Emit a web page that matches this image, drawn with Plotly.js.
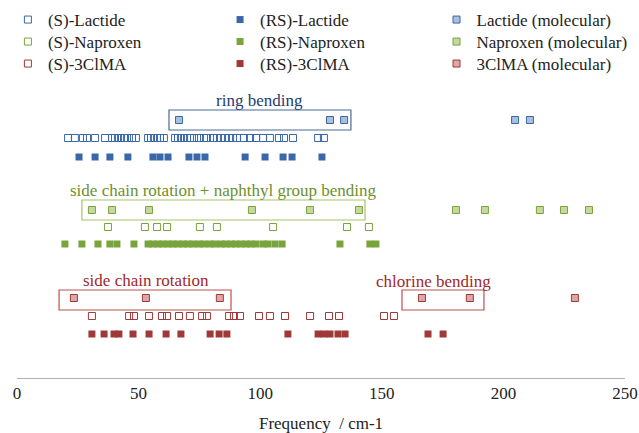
<!DOCTYPE html>
<html>
<head>
<meta charset="utf-8">
<script src="https://cdn.plot.ly/plotly-3.0.1.min.js"></script>
<style>html,body{margin:0;padding:0;background:#fff;}#chart{width:639px;height:433px;}</style>
</head>
<body>
<div id="chart"></div>
<script>
// Frequencies (cm-1)
const lactideS = [21.0, 23.8, 27.1, 28.8, 32.1, 36.2, 39.1, 40.3, 41.5, 42.8, 44.0, 45.2, 47.3, 48.9, 53.9, 55.1, 56.3, 57.6, 58.8, 60.4, 65.0, 66.2, 67.4, 68.7, 69.9, 71.1, 72.8, 74.8, 76.9, 78.1, 80.6, 82.2, 83.9, 85.5, 87.2, 88.8, 90.5, 93.3, 95.8, 98.3, 101.2, 104.0, 107.7, 109.8, 113.5, 123.8, 126.2];
const lactideRS = [25.5, 32.1, 38.2, 45.6, 55.9, 58.8, 62.1, 70.7, 74.0, 77.3, 93.8, 102.0, 109.4, 113.1, 125.4];
const lactideMol = [66.6, 128.7, 134.5, 204.8, 210.9];
const naproxenS = [37.4, 52.6, 57.6, 61.7, 75.2, 82.2, 105.3, 135.7, 144.7];
const naproxenRS = [19.7, 26.7, 33.3, 38.2, 41.1, 48.1, 53.9, 55.9, 58.0, 60.0, 62.1, 64.1, 66.2, 68.3, 70.3, 72.4, 74.8, 76.9, 79.4, 81.4, 83.9, 85.9, 88.0, 90.0, 92.1, 94.2, 96.2, 98.3, 101.2, 103.2, 106.1, 109.0, 132.8, 145.1, 147.6];
const naproxenMol = [30.8, 39.1, 54.3, 96.6, 120.5, 140.6, 180.5, 192.4, 215.0, 224.9, 235.2];
const clmaS = [30.8, 46.1, 48.1, 54.3, 59.6, 61.7, 66.6, 71.1, 76.1, 78.1, 87.2, 89.2, 91.7, 99.5, 104.0, 110.2, 120.5, 128.3, 132.4, 150.9, 155.0];
const clmaRS = [30.8, 35.8, 39.9, 41.9, 47.7, 54.3, 61.3, 67.4, 79.4, 83.1, 86.3, 111.4, 123.8, 126.2, 128.7, 132.0, 134.9, 169.0, 175.2];
const clmaMol = [23.4, 53.0, 83.4, 166.5, 186.2, 229.4];

const seriesNames = ["(S)-Lactide", "(RS)-Lactide", "Lactide (molecular)",
                     "(S)-Naproxen", "(RS)-Naproxen", "Naproxen (molecular)",
                     "(S)-3ClMA", "(RS)-3ClMA", "3ClMA (molecular)"];
const tickVals = [0, 50, 100, 150, 200, 250];

const BLUE = '#3a67a8', BLUE_L = '#a9bfdc';
const GREEN = '#79a33b', GREEN_L = '#c5d99f';
const RED = '#a03838', RED_L = '#dba8a6';

const rowY = [240, 221, 258, 151, 134, 168, 62, 44, 80];
const data = [lactideS, lactideRS, lactideMol, naproxenS, naproxenRS, naproxenMol, clmaS, clmaRS, clmaMol];
const cols = [BLUE, BLUE, BLUE, GREEN, GREEN, GREEN, RED, RED, RED];
const lights = [BLUE_L, BLUE_L, BLUE_L, GREEN_L, GREEN_L, GREEN_L, RED_L, RED_L, RED_L];

const legendId = i => (i === 0 ? 'legend' : 'legend' + (i + 1));

const traces = data.map((xs, i) => {
  const kind = i % 3;
  let marker;
  if (kind === 0) marker = {symbol: 'square-open', size: 7, color: cols[i], line: {width: 1, color: cols[i]}};
  else if (kind === 1) marker = {symbol: 'square', size: 7, color: cols[i], line: {width: 0}};
  else marker = {symbol: 'square', size: 7, color: lights[i], line: {width: 1, color: cols[i]}};
  return {
    type: 'scatter', mode: 'markers', name: seriesNames[i], legend: legendId(i),
    x: xs, y: xs.map(() => rowY[i]), marker: marker, hoverinfo: 'x+name'
  };
});

const serif = 'Liberation Serif, Times New Roman, serif';
const layout = {
  width: 639, height: 433,
  margin: {l: 17, r: 14, t: 78, b: 55, autoexpand: false},
  paper_bgcolor: '#fff', plot_bgcolor: '#fff',
  font: {family: serif, size: 17, color: '#222'},
  showlegend: true,
  xaxis: {
    range: [0, 250], tickvals: tickVals, ticktext: tickVals.map(String),
    showgrid: false, zeroline: false, showline: true, linecolor: '#b0b0b0', linewidth: 1,
    ticks: '', tickfont: {family: serif, size: 17, color: '#222'},
    title: {text: 'Frequency  / cm-1', font: {family: serif, size: 17, color: '#222'}, standoff: 14}
  },
  yaxis: {range: [0, 300], visible: false, showgrid: false, zeroline: false, fixedrange: true},
  shapes: [
    {type: 'rect', xref: 'x', yref: 'y', x0: 62.5, x1: 137.3, y0: 248, y1: 268, line: {color: '#4a6b95', width: 1.2}},
    {type: 'rect', xref: 'x', yref: 'y', x0: 26.7, x1: 143.1, y0: 158, y1: 178, line: {color: '#a6c26a', width: 1.2}},
    {type: 'rect', xref: 'x', yref: 'y', x0: 17.3, x1: 88.0, y0: 68, y1: 88, line: {color: '#c0504d', width: 1.2}},
    {type: 'rect', xref: 'x', yref: 'y', x0: 158.3, x1: 192.0, y0: 68, y1: 88, line: {color: '#c0504d', width: 1.2}}
  ],
  annotations: [
    {x: 99.9, y: 278, xref: 'x', yref: 'y', text: 'ring bending', showarrow: false, font: {family: serif, size: 17, color: '#1f3d6e'}},
    {x: 85.1, y: 188, xref: 'x', yref: 'y', text: 'side chain rotation + naphthyl group bending', showarrow: false, font: {family: serif, size: 17, color: '#6d8f2e'}},
    {x: 53.0, y: 98, xref: 'x', yref: 'y', text: 'side chain rotation', showarrow: false, font: {family: serif, size: 17, color: '#9c2a2a'}},
    {x: 171.1, y: 97, xref: 'x', yref: 'y', text: 'chlorine bending', showarrow: false, font: {family: serif, size: 17, color: '#9c2a2a'}}
  ]
};

// one single-entry legend per series, laid out as a 3x3 grid
const legendColX = [-0.015, 0.334, 0.69];
const legendRowCenterPx = [18, 40, 62];
for (let i = 0; i < 9; i++) {
  const row = Math.floor(i / 3), col = i % 3;
  const topPx = legendRowCenterPx[row] - 16;
  layout[legendId(i)] = {
    orientation: 'v', xanchor: 'left', yanchor: 'top',
    x: legendColX[col], y: (378 - topPx) / 300,
    bgcolor: 'rgba(0,0,0,0)', itemwidth: 30,
    font: {family: serif, size: 17, color: '#222'}
  };
}

Plotly.newPlot('chart', traces, layout, {displayModeBar: false, staticPlot: true});
</script>
</body>
</html>
